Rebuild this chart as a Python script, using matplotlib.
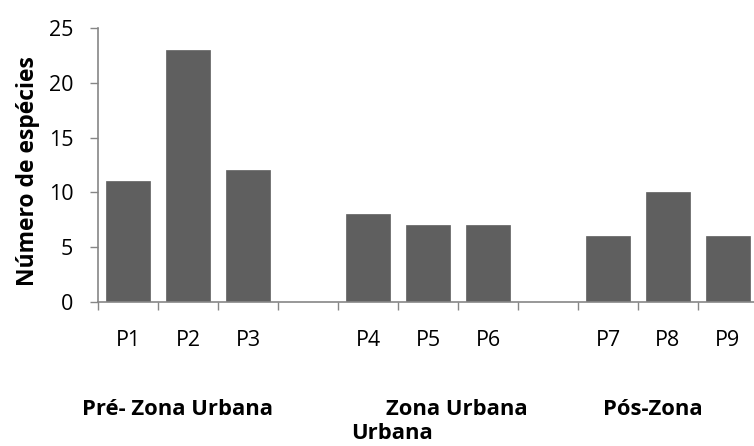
import matplotlib
matplotlib.use("Agg")
import matplotlib.pyplot as plt
import numpy as np

# data
categories = ["P1", "P2", "P3", "", "P4", "P5", "P6", "", "P7", "P8", "P9"]
values = [11, 23, 12, 0, 8, 7, 7, 0, 6, 10, 6]
group_labels = ["Pré- Zona Urbana", "Zona Urbana", "Pós-Zona", "Urbana"]
y_ticks = [0, 5, 10, 15, 20, 25]

plt.rcParams['font.family'] = ['Open Sans', 'DejaVu Sans']

fig = plt.figure(figsize=(7.54, 4.46), dpi=100)
ax = fig.add_axes([98/754, 1 - 302/446, 660/754, 274/446])

x = np.arange(len(categories))
ax.bar(x, values, width=0.72, color='#5f5f5f', edgecolor='#5f5f5f', linewidth=0.5)

ax.set_xlim(-0.5, len(categories) - 0.5)
ax.set_ylim(0, 25)
ax.set_yticks(y_ticks)
ax.tick_params(axis='y', length=5.8, width=1, color='#868686', labelsize=15.5, pad=12)

# boundary ticks (major) + centered labels (minor)
ax.set_xticks(np.arange(len(categories) + 1) - 0.5)
ax.set_xticklabels([])
ax.set_xticks(x, minor=True)
ax.set_xticklabels(categories, minor=True)
ax.tick_params(axis='x', which='major', length=5.8, width=1, color='#868686')
ax.tick_params(axis='x', which='minor', length=0, labelsize=15.5, pad=20)

for s in ['top', 'right']:
    ax.spines[s].set_visible(False)
for s in ['left', 'bottom']:
    ax.spines[s].set_color('#868686')
    ax.spines[s].set_linewidth(1.2)

ax.set_ylabel("Número de espécies", fontsize=16.5, fontweight='bold')
ax.yaxis.set_label_coords(-0.088, 0.478)

# group labels under the axis
pos = [(177, 415), (457, 415), (653, 415), (392, 439)]
for lab, (px, py) in zip(group_labels, pos):
    fig.text(px/754, 1 - py/446, lab, ha='center', va='baseline',
             fontsize=15.8, fontweight='bold')

fig.savefig("out.png", dpi=100)
